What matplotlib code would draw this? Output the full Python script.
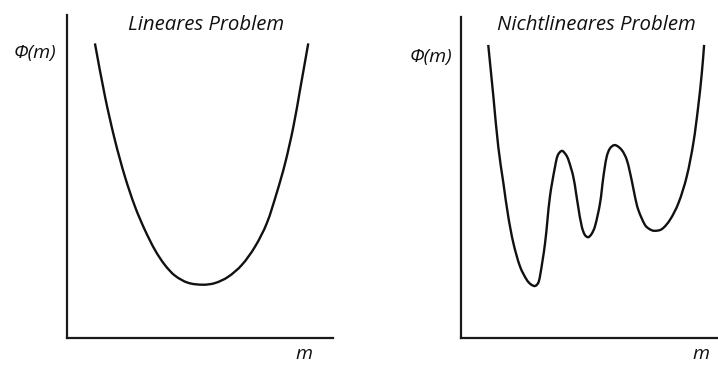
import numpy as np
import matplotlib
matplotlib.use("Agg")
import matplotlib.pyplot as plt
from matplotlib.path import Path
from matplotlib.patches import PathPatch

# linear problem: single convex misfit curve
lin_m = [10.5, 14.3, 18.0, 21.8, 25.6, 29.3, 33.1, 36.8, 40.6, 45.5, 51.1,
         55.6, 60.5, 65.7, 70.7, 75.1, 78.8, 82.0, 85.1, 87.6, 90.7]
lin_phi = [91.2, 74.7, 61.3, 49.9, 40.6, 33.4, 27.2, 22.6, 19.3, 17.1, 16.5,
           17.0, 18.9, 22.6, 28.3, 35.5, 44.8, 54.1, 65.4, 76.8, 91.2]

# nonlinear problem: several local minima
nl_m = [10.6, 12.6, 14.5, 16.5, 18.4, 20.4, 23.0, 25.6, 27.2, 28.8, 30.0,
        30.7, 32.7, 34.6, 36.6, 37.7, 39.3, 40.9, 41.8, 43.7, 45.6, 47.0,
        48.2, 49.5, 50.8, 52.1, 54.1, 55.4, 56.7, 58.0, 59.9, 62.5, 64.5,
        66.4, 67.7, 69.0, 71.6, 73.2, 75.1, 78.1, 81.3, 84.6, 87.8, 90.4,
        92.3, 93.7, 94.6]
nl_phi = [91.3, 75.2, 59.6, 48.2, 37.8, 29.5, 22.2, 18.1, 16.7, 16.2, 17.1,
          19.1, 29.5, 44.0, 53.4, 57.0, 58.3, 57.0, 55.5, 50.2, 40.9, 34.7,
          32.1, 31.4, 32.4, 34.7, 42.0, 50.2, 56.5, 59.1, 60.1, 58.6, 55.5,
          49.2, 44.0, 39.9, 35.2, 34.0, 33.4, 33.9, 36.8, 42.0, 50.2, 60.7,
          72.1, 82.5, 91.3]

titles = ["Lineares Problem", "Nichtlineares Problem"]
ylab = "\u03A6(m)"
xlab = "m"

W, H = 718, 365
fig = plt.figure(figsize=(W / 100, H / 100), dpi=100)

def px(x, y):
    return x / W, 1 - y / H

def make_axes(x0, x1, ytop, ybot=338):
    ax = fig.add_axes([x0 / W, 1 - ybot / H, (x1 - x0) / W, (ybot - ytop) / H])
    ax.set_xlim(0, 100)
    ax.set_ylim(0, 100)
    for s in ["top", "right"]:
        ax.spines[s].set_visible(False)
    for s in ["left", "bottom"]:
        ax.spines[s].set_linewidth(1.6)
        ax.spines[s].set_color("#1a1a1a")
    ax.set_xticks([])
    ax.set_yticks([])
    ax.patch.set_alpha(0)
    return ax

def smooth_curve(ax, xs, ys, **kw):
    # Bezier path through every point; tangents are scaled by the
    # chord lengths so unevenly spaced points don't leave corners
    p = np.column_stack([xs, ys])
    d = np.hypot(*np.diff(p, axis=0).T)
    n = len(p)
    tang = np.zeros_like(p)
    tang[0] = (p[1] - p[0]) / d[0]
    tang[-1] = (p[-1] - p[-2]) / d[-1]
    for i in range(1, n - 1):
        tang[i] = (p[i + 1] - p[i - 1]) / (d[i - 1] + d[i])
    verts = [p[0]]
    codes = [Path.MOVETO]
    for i in range(n - 1):
        verts += [p[i] + tang[i] * d[i] / 3,
                  p[i + 1] - tang[i + 1] * d[i] / 3,
                  p[i + 1]]
        codes += [Path.CURVE4] * 3
    ax.add_patch(PathPatch(Path(verts, codes), fill=False, **kw))

ax1 = make_axes(67, 333, 15)
ax2 = make_axes(461, 718, 17)

smooth_curve(ax1, lin_m, lin_phi, edgecolor="#111111", lw=1.7)
smooth_curve(ax2, nl_m, nl_phi, edgecolor="#111111", lw=1.7)

font = dict(family="Open Sans", style="italic", color="#111111")

fig.text(*px(206, 25), titles[0], ha="center", va="center", fontsize=14.7, **font)
fig.text(*px(596, 25), titles[1], ha="center", va="center", fontsize=14.7, **font)
fig.text(*px(35, 53), ylab, ha="center", va="center", fontsize=14, **font)
fig.text(*px(431, 57), ylab, ha="center", va="center", fontsize=14, **font)
fig.text(*px(304, 354), xlab, ha="center", va="center", fontsize=14, **font)
fig.text(*px(701, 354), xlab, ha="center", va="center", fontsize=14, **font)

fig.savefig("out.png", dpi=100, facecolor="white")
